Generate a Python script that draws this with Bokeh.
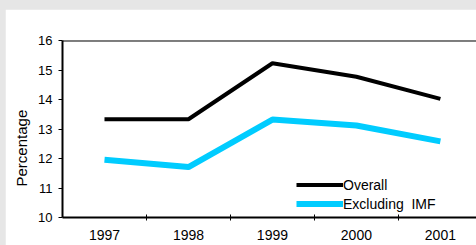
from bokeh.plotting import figure
from bokeh.models import (FixedTicker, Range1d, Span, Legend, LegendItem, Title,
                          GlobalInlineStyleSheet)
from bokeh.embed import file_html
from bokeh.resources import INLINE

years = [1997, 1998, 1999, 2000, 2001]
year_labels = ["1997", "1998", "1999", "2000", "2001"]
boundaries = [1997.5, 1998.5, 1999.5, 2000.5]
overall = [13.33, 13.33, 15.23, 14.77, 14.02]
excl_imf = [11.96, 11.71, 13.32, 13.12, 12.58]
y_ticks = [10, 11, 12, 13, 14, 15, 16]
series_names = ["Overall", "Excluding  IMF"]
y_title = "Percentage"

FONT = "Liberation Sans"

p = figure(width=471, height=236, output_backend="svg", toolbar_location=None,
           x_range=Range1d(1996.5, 2001.43), y_range=Range1d(10, 16),
           min_border_left=57, min_border_right=0, min_border_top=31,
           min_border_bottom=28, border_fill_color="white",
           background_fill_color="white", outline_line_color=None)
p.stylesheets = [GlobalInlineStyleSheet(
    css="body { background-color: #e6e6e6; padding: 9px 0 0 5px; box-sizing: border-box; }")]

p.xgrid.visible = False
p.ygrid.visible = False

# x axis
xa = p.xaxis[0]
xa.ticker = FixedTicker(ticks=years, minor_ticks=boundaries)
xa.major_label_overrides = {y: s for y, s in zip(years, year_labels)}
xa.major_tick_line_color = None
xa.major_tick_in = 0
xa.major_tick_out = 0
xa.minor_tick_in = 3
xa.minor_tick_out = 3
xa.minor_tick_line_color = "black"
xa.minor_tick_line_width = 1
xa.axis_line_width = 2
xa.axis_line_color = "black"
xa.major_label_standoff = 9
xa.major_label_text_font = FONT
xa.major_label_text_font_size = "14px"
xa.major_label_text_color = "black"

# y axis
ya = p.yaxis[0]
ya.ticker = FixedTicker(ticks=y_ticks, minor_ticks=[])
ya.major_tick_in = 0
ya.major_tick_out = 4
ya.major_tick_line_width = 1
ya.major_tick_line_color = "black"
ya.axis_line_width = 2
ya.axis_line_color = "black"
ya.major_label_standoff = 6
ya.major_label_text_font = FONT
ya.major_label_text_font_size = "13px"
ya.major_label_text_color = "black"

# y title, shifted down like the original
p.add_layout(Title(text=y_title, align="left", offset=31, standoff=11,
                   text_font=FONT, text_font_size="15px",
                   text_font_style="normal", text_color="black"), "left")

# top border
p.add_layout(Span(location=16, dimension="width", line_color="black", line_width=2))

r1 = p.line(years, overall, line_color="black", line_width=4)
r2 = p.line(years, excl_imf, line_color="#00ccff", line_width=6)

legend = Legend(items=[LegendItem(label=series_names[0], renderers=[r1]),
                       LegendItem(label=series_names[1], renderers=[r2])],
                location=(234, 4), orientation="vertical",
                glyph_width=47, glyph_height=19, label_height=19,
                label_standoff=0, spacing=0, padding=0, margin=0,
                border_line_color=None, background_fill_alpha=0,
                label_text_font=FONT, label_text_font_size="14px",
                label_text_color="black")
p.add_layout(legend, "center")

open("out.html", "w").write(file_html(p, INLINE))
